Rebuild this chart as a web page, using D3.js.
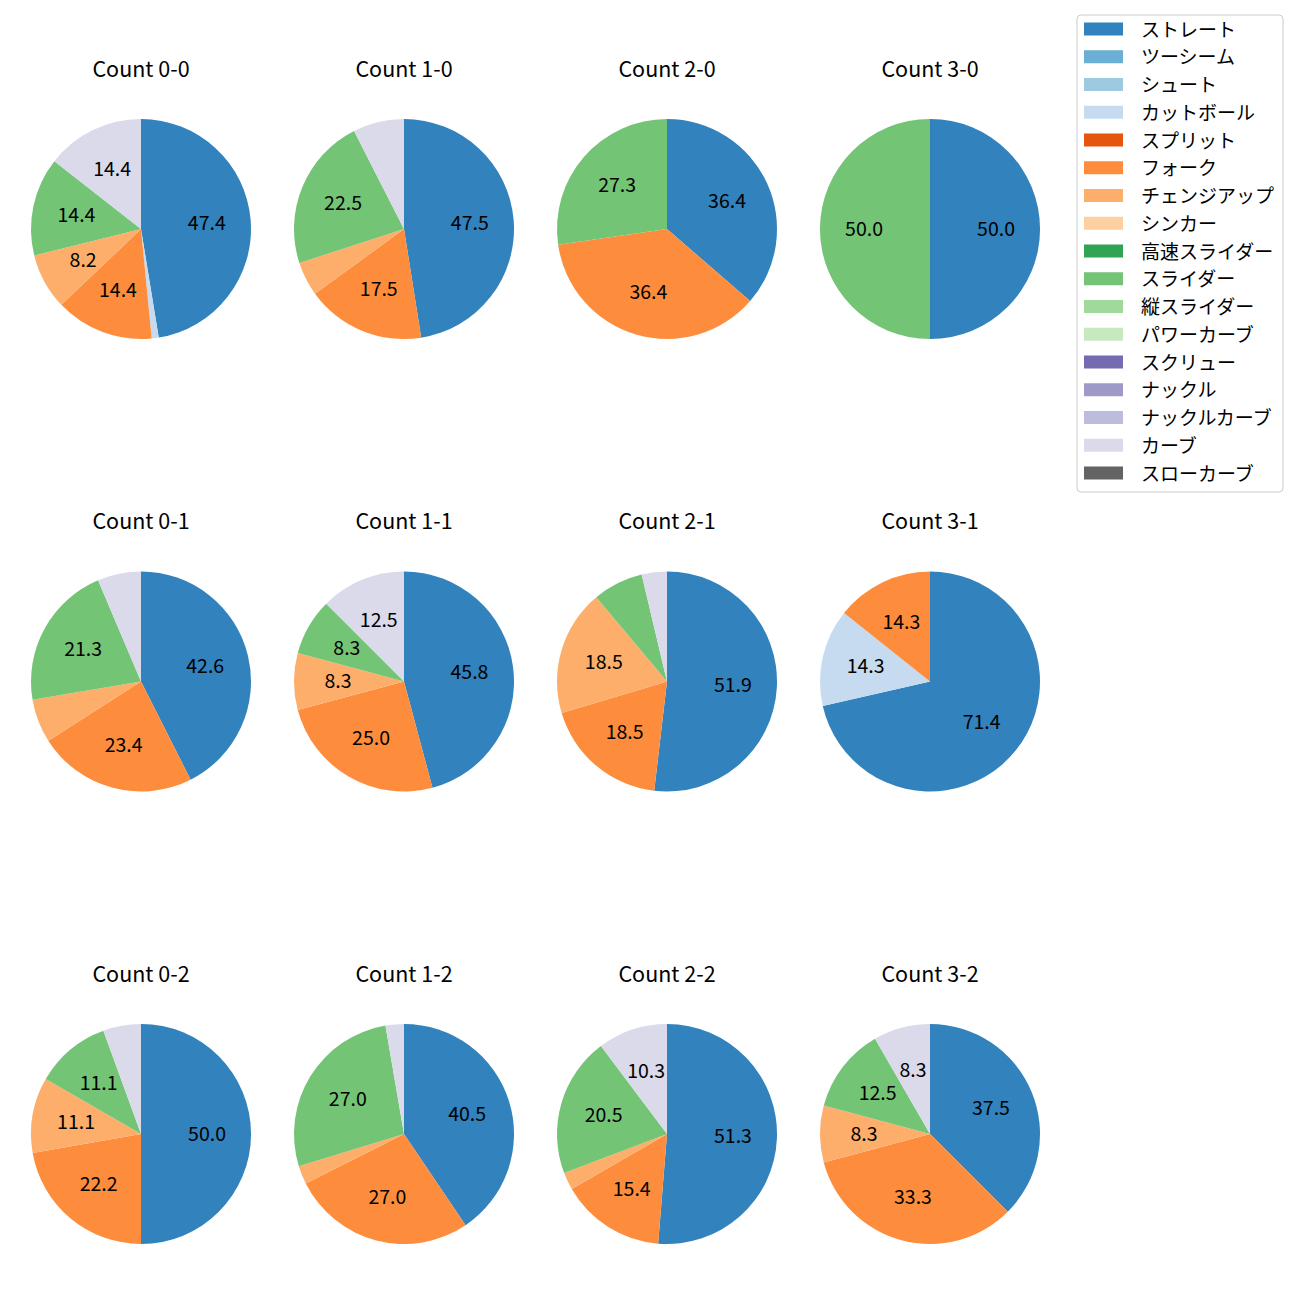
<!DOCTYPE html>
<html><head><meta charset="utf-8">
<script src="https://cdn.jsdelivr.net/npm/d3@7"></script>
<style>body{margin:0;background:#fff}svg{display:block}</style>
</head><body>
<script>
const countTitles = ["Count 0-0","Count 1-0","Count 2-0","Count 3-0","Count 0-1","Count 1-1","Count 2-1","Count 3-1","Count 0-2","Count 1-2","Count 2-2","Count 3-2"];
const pitchTypes = ["ストレート","ツーシーム","シュート","カットボール","スプリット","フォーク","チェンジアップ","シンカー","高速スライダー","スライダー","縦スライダー","パワーカーブ","スクリュー","ナックル","ナックルカーブ","カーブ","スローカーブ"];
const pitchColors = ["#3182bd","#6baed6","#9ecae1","#c6dbef","#e6550d","#fd8d3c","#fdae6b","#fdd0a2","#31a354","#74c476","#a1d99b","#c7e9c0","#756bb1","#9e9ac8","#bcbddc","#dadaeb","#636363"];
// pitch counts per count situation (same order as countTitles)
const straight = [46,19,4,1,20,11,14,5,9,15,20,9];
const cutball  = [1,0,0,0,0,0,0,1,0,0,0,0];
const fork     = [14,7,4,0,11,6,5,1,4,10,6,8];
const changeup = [8,2,0,0,3,2,5,0,2,1,1,2];
const slider   = [14,9,3,1,10,2,2,0,2,10,8,3];
const curve    = [14,3,0,0,3,3,1,0,1,1,4,2];
const zeros = countTitles.map(() => 0);
const seriesByPitch = [straight, zeros, zeros, cutball, zeros, fork, changeup, zeros, zeros, slider, zeros, zeros, zeros, zeros, zeros, curve, zeros];

const W = 1300, H = 1300;
const FONT = "'Noto Sans CJK JP','Noto Sans',sans-serif";
const svg = d3.select("body").append("svg").attr("width", W).attr("height", H);

const colX = d3.scalePoint().domain([0,1,2,3]).range([141, 930]);
const rowY = d3.scalePoint().domain([0,1,2]).range([229, 1134]);
const R = 110;
const color = d3.scaleOrdinal().domain(pitchTypes).range(pitchColors);

const pie = d3.pie().sort(null).value(d => d.v);
const arc = d3.arc().innerRadius(0).outerRadius(R);
const labelArc = d3.arc().innerRadius(R*0.6).outerRadius(R*0.6);

countTitles.forEach((title, i) => {
  const cx = colX(i % 4), cy = rowY(Math.floor(i / 4));
  const g = svg.append("g").attr("transform", `translate(${cx},${cy})`);
  const data = pitchTypes.map((p, k) => ({p, v: seriesByPitch[k][i]}));
  const total = d3.sum(data, d => d.v);
  const arcs = pie(data).filter(a => a.data.v > 0);
  g.selectAll("path").data(arcs).join("path")
    .attr("d", arc).attr("fill", d => color(d.data.p));
  g.selectAll("text.lbl").data(arcs.filter(a => a.data.v / total * 100 >= 8)).join("text")
    .attr("class","lbl")
    .attr("transform", d => { const c = labelArc.centroid(d); return `translate(${c[0]},${c[1]-2})`; })
    .attr("text-anchor","middle").attr("dominant-baseline","central")
    .attr("font-family", FONT).attr("font-size", 19.5).attr("fill","#000")
    .text(d => (d.data.v / total * 100).toFixed(1));
  svg.append("text").attr("x", cx).attr("y", cy - 162)
    .attr("text-anchor","middle").attr("dominant-baseline","central")
    .attr("font-family", FONT).attr("font-size", 21.5).attr("fill","#000")
    .text(title);
});

// legend
const lg = svg.append("g");
lg.append("rect").attr("x",1077).attr("y",15).attr("width",206).attr("height",477)
  .attr("rx",4).attr("fill","#fff").attr("fill-opacity",0.8).attr("stroke","#cccccc");
const ly = d3.scaleLinear().domain([0,16]).range([29, 473]);
pitchTypes.forEach((p, k) => {
  lg.append("rect").attr("x",1084).attr("y", ly(k)-6.5).attr("width",39).attr("height",13).attr("fill", color(p));
  lg.append("text").attr("x",1141).attr("y", ly(k)-1).attr("dominant-baseline","central")
    .attr("font-family", FONT).attr("font-size", 19).attr("fill","#000").text(p);
});
</script>
</body></html>
